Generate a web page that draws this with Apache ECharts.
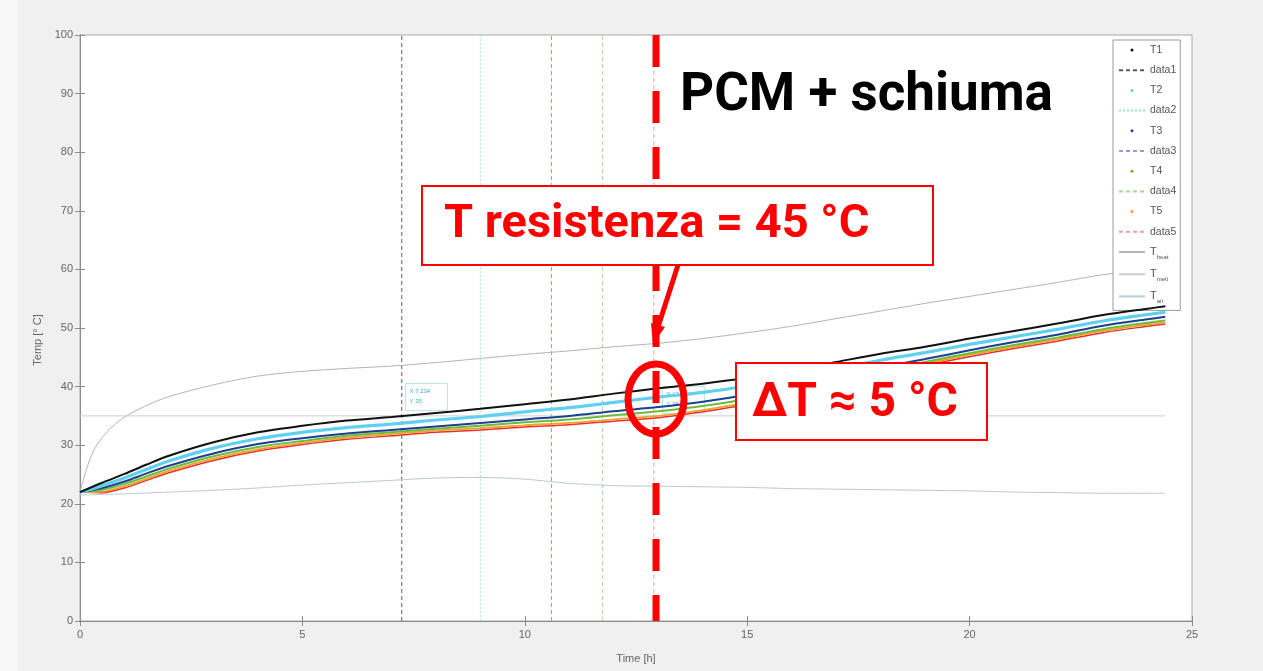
<!DOCTYPE html>
<html>
<head>
<meta charset="utf-8">
<script src="https://cdn.jsdelivr.net/npm/echarts@6/dist/echarts.min.js"></script>
<style>
html,body{margin:0;padding:0;background:#f0f0f0;}
#c{width:1263px;height:671px;}
</style>
</head>
<body>
<div id="c"></div>
<script>
// ---- data ----
const times = [0,0.5,1,1.5,2,3,4,5,6,7,8,9,10,11,12,13,14,15,16,17,18,19,20,21,22,23,24,24.4];
const T1 = [22,23.6,25.1,26.7,28.2,30.5,32.2,33.3,34.2,34.8,35.5,36.2,37.0,37.8,38.8,39.7,40.5,41.5,42.8,44.2,45.6,46.8,48.2,49.5,50.8,52.2,53.3,53.7];
const T2 = [22,23.1,24.4,25.9,27.3,29.5,31.1,32.2,33.0,33.6,34.3,34.9,35.7,36.4,37.3,38.2,39.0,40.1,41.5,43.0,44.5,45.8,47.2,48.5,49.8,51.2,52.3,52.7];
const T3 = [22,22.7,23.8,25.2,26.5,28.6,30.2,31.2,32.0,32.6,33.2,33.8,34.4,35.0,35.8,36.5,37.4,38.6,40.1,41.7,43.3,44.7,46.2,47.6,48.9,50.4,51.5,51.9];
const T4 = [22,22.4,23.4,24.7,26.0,28.1,29.7,30.7,31.6,32.2,32.8,33.3,33.9,34.4,35.1,35.8,36.7,37.9,39.5,41.2,42.8,44.2,45.7,47.1,48.4,49.8,50.9,51.3];
const T5 = [22,22.1,23.0,24.3,25.6,27.7,29.3,30.4,31.3,31.9,32.5,32.9,33.4,33.8,34.4,35.0,36.0,37.3,39.0,40.8,42.5,43.9,45.4,46.8,48.1,49.5,50.6,51.0];
const T6 = [22,21.9,22.7,24.0,25.3,27.4,29.0,30.1,31.0,31.6,32.2,32.6,33.1,33.5,34.1,34.7,35.7,37.0,38.7,40.5,42.2,43.6,45.1,46.5,47.8,49.2,50.3,50.7];
const heatTimes = [0,0.15,0.3,0.5,0.75,1,1.5,2,3,4,5,6,7,8,9,10,11,12,13,14,15,16,17,18,19,20,21,22,23,24,24.4];
const Theat = [22,26,29,31.3,33.3,34.8,36.8,38.3,40.3,41.8,42.6,43.1,43.5,44.1,44.8,45.5,46.1,46.8,47.4,48.2,49.2,50.3,51.6,52.9,54.2,55.4,56.6,57.8,59.1,59.9,60.2];
const meltTimes = [0,24.4];
const Tmelt = [35,35];
const airTimes = [0,1,2,3,4,5,6,7,8,9,10,11,12,13,14,15,16,17,18,19,20,21,22,23,24,24.4];
const Tair = [21.5,21.7,22,22.3,22.7,23.2,23.6,24,24.4,24.5,24.2,23.5,23.1,23,22.9,22.8,22.6,22.5,22.4,22.3,22.2,22,21.9,21.8,21.8,21.8];
const meltMarks = [7.234, 9.0, 10.6, 11.75, 12.9];   // data1..data5
const redLineX = 12.95;
const xTicks = [0,5,10,15,20,25];
const yTicks = [0,10,20,30,40,50,60,70,80,90,100];
const legendNames = ['T1','data1','T2','data2','T3','data3','T4','data4','T5','data5','T_heat','T_melt','T_air'];

const pair = (xs, ys) => xs.map((x,i)=>[x, ys[i]]);
const vline = x => [[x,0],[x,100]];

const tColors = ['#111111','#5fd0ef','#1d3f8f','#6dbb3c','#f0a030','#e8302a'];
const dColors = ['#5a5a5a','#9fdde6','#9a9ad0','#a5d59a','#eaa0a0'];
const dTypes  = [[4,3],[2,2],[4,3],[4,3],[4,3]];

const series = [];
meltMarks.forEach((x,i)=>{
  series.push({name:'data'+(i+1), type:'line', data:vline(x), symbol:'none',
    lineStyle:{color:dColors[i], width:1, type:dTypes[i]}, z:1});
});
series.push({name:'T_heat', type:'line', data:pair(heatTimes,Theat), symbol:'none', smooth:0.3,
  lineStyle:{color:'#b4b4b4', width:1}, z:2});
series.push({name:'T_melt', type:'line', data:pair(meltTimes,Tmelt), symbol:'none',
  lineStyle:{color:'#cdcdcd', width:1}, z:2});
series.push({name:'T_air', type:'line', data:pair(airTimes,Tair), symbol:'none', smooth:0.3,
  lineStyle:{color:'#b9cad8', width:1}, z:2});
const Ts = [T6,T5,T4,T3,T2,T1];
const TNames = ['T6','T5','T4','T3','T2','T1'];
const TCol = [tColors[5],tColors[4],tColors[3],tColors[2],tColors[1],tColors[0]];
const TW = [1.5,1.8,2,2,3.2,2];
Ts.forEach((arr,k)=>{
  series.push({name:TNames[k], type:'line', data:pair(times,arr), symbol:'circle', symbolSize:2,
    showSymbol:false, smooth:0.3, itemStyle:{color:TCol[k]}, lineStyle:{color:TCol[k], width:TW[k]}, z:3+k});
});
series.push({name:'redline', type:'line', data:[[redLineX,100],[redLineX,0]], symbol:'none',
  lineStyle:{color:'#ff0000', width:7, type:[32,24]}, z:20});

const legendData = legendNames.map(n=>{
  if (/^T\d$/.test(n)) return {name:n, icon:'circle'};
  return {name:n, itemStyle:{opacity:0}};
});

const chart = echarts.init(document.getElementById('c'), null, {renderer:'canvas'});
const axisCol = '#8c8c8c';
const option = {
  animation:false,
  backgroundColor:'#f0f0f0',
  grid:{left:80, right:71, top:35, bottom:50, show:true, backgroundColor:'#ffffff', borderColor:'#a8a8a8', borderWidth:1},
  xAxis:[{type:'value', min:0, max:25, interval:5, position:'bottom',
    name:'Time [h]', nameLocation:'middle', nameGap:32,
    nameTextStyle:{color:'#666', fontSize:11, fontFamily:'Liberation Sans'},
    axisLine:{lineStyle:{color:axisCol}}, axisTick:{inside:true, length:5, lineStyle:{color:axisCol}},
    axisLabel:{color:'#666', fontSize:11, margin:8, fontFamily:'Liberation Sans'}, splitLine:{show:false}},
   {type:'value', min:0, max:25, interval:5, position:'top',
    axisLine:{lineStyle:{color:axisCol}}, axisTick:{inside:true, length:5, lineStyle:{color:axisCol}},
    axisLabel:{show:false}, splitLine:{show:false}}],
  yAxis:[{type:'value', min:0, max:100, interval:10, position:'left',
    name:'Temp [° C]', nameLocation:'middle', nameGap:37,
    nameTextStyle:{color:'#666', fontSize:11, fontFamily:'Liberation Sans', padding:[0,0,0,-24]},
    axisLine:{show:true, lineStyle:{color:axisCol}}, axisTick:{show:true, inside:true, length:5, lineStyle:{color:axisCol}},
    axisLabel:{color:'#666', fontSize:11, margin:7, fontFamily:'Liberation Sans'}, splitLine:{show:false}},
   {type:'value', min:0, max:100, interval:10, position:'right',
    axisLine:{show:true, lineStyle:{color:axisCol}}, axisTick:{show:true, inside:true, length:5, lineStyle:{color:axisCol}},
    axisLabel:{show:false}, splitLine:{show:false}}],
  legend:{
    data:legendData, orient:'vertical', left:1113, top:40,
    itemWidth:26, itemHeight:3, itemGap:8.2,
    backgroundColor:'#ffffff', borderColor:'#9a9a9a', borderWidth:1, borderRadius:0,
    padding:[4,4,6,5],
    selectedMode:false,
    textStyle:{color:'#555', fontSize:10.5, lineHeight:12, fontFamily:'Liberation Sans',
      rich:{b:{fontSize:11, color:'#555', fontFamily:'Liberation Sans'}, s:{fontSize:6, color:'#555', padding:[10,0,0,0], fontFamily:'Liberation Sans'}}},
    formatter:function(n){
      const m = n.match(/^T_(\w+)$/);
      if (m) return '{b|T}{s|' + m[1] + '}';
      return n;
    }
  },
  series:series,
  graphic:[
    {type:'rect', left:0, top:0, shape:{width:18, height:671}, style:{fill:'#f8f8f8'}, z:-10, silent:true},
    {type:'group', left:405, top:383, z:30, children:[
      {type:'rect', shape:{x:0,y:0,width:42,height:27}, style:{fill:'rgba(255,255,255,0.85)', stroke:'#bfe6ee', lineWidth:1}},
      {type:'text', x:4, y:5, style:{text:'X 7.234', fontSize:6, fill:'#4aaccc', fontFamily:'Liberation Sans'}},
      {type:'text', x:4, y:15, style:{text:'Y 35', fontSize:6, fill:'#4aaccc', fontFamily:'Liberation Sans'}}
    ]},
    {type:'group', left:662, top:386, z:30, children:[
      {type:'rect', shape:{x:0,y:0,width:42,height:27}, style:{fill:'rgba(255,255,255,0.85)', stroke:'#bfe6ee', lineWidth:1}},
      {type:'text', x:4, y:5, style:{text:'X 12.9', fontSize:6, fill:'#4aaccc', fontFamily:'Liberation Sans'}},
      {type:'text', x:4, y:15, style:{text:'Y 36.5', fontSize:6, fill:'#4aaccc', fontFamily:'Liberation Sans'}}
    ]},
    {type:'text', left:680, top:70, z:40, style:{text:'PCM + schiuma', fontSize:53, fontWeight:'bold', fill:'#000', fontFamily:'Roboto'}},
    {type:'rect', left:421, top:185, z:40, shape:{width:511, height:79}, style:{fill:'#ffffff', stroke:'#ff0000', lineWidth:2}},
    {type:'text', left:444, top:202, z:41, style:{text:'T resistenza = 45 °C', fontSize:47, fontWeight:'bold', fill:'#ff0000', fontFamily:'Roboto'}},
    {type:'line', z:40, shape:{x1:678, y1:265, x2:658, y2:327}, style:{stroke:'#ff0000', lineWidth:5}},
    {type:'polygon', z:40, shape:{points:[[653,344],[665,327],[651,323]]}, style:{fill:'#ff0000'}},
    {type:'ellipse', z:40, shape:{cx:656, cy:399, rx:28, ry:35}, style:{fill:'none', stroke:'#ff0000', lineWidth:7}},
    {type:'rect', left:735, top:362, z:40, shape:{width:251, height:77}, style:{fill:'#ffffff', stroke:'#ff0000', lineWidth:2}},
    {type:'text', left:752, top:380, z:41, style:{text:'ΔT ≈ 5 °C', fontSize:48, fontWeight:'bold', fill:'#ff0000', fontFamily:'Roboto'}}
  ]
};
chart.setOption(option);
</script>
</body>
</html>
